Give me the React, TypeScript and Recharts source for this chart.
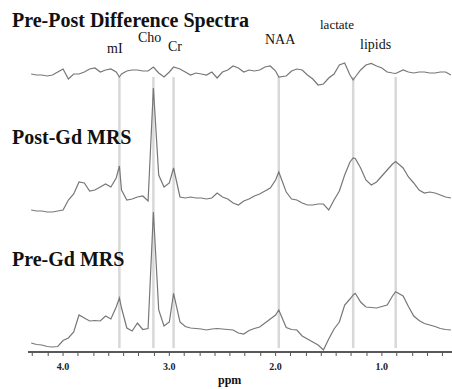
import { LineChart, Line, XAxis, YAxis, ReferenceLine } from "recharts";

// chemical shift (ppm), read left to right
const PPM = [
  4.3, 4.25, 4.2, 4.15, 4.1, 4.05, 4.0, 3.95, 3.9, 3.85,
  3.8, 3.75, 3.7, 3.65, 3.6, 3.55, 3.5, 3.47, 3.45, 3.4,
  3.35, 3.3, 3.25, 3.2, 3.15, 3.1, 3.05, 3.0, 2.96, 2.9,
  2.85, 2.8, 2.75, 2.7, 2.65, 2.6, 2.55, 2.5, 2.45, 2.4,
  2.35, 2.3, 2.25, 2.2, 2.15, 2.1, 2.05, 2.0, 1.97, 1.9,
  1.85, 1.8, 1.75, 1.7, 1.65, 1.6, 1.55, 1.5, 1.45, 1.4,
  1.35, 1.3, 1.27, 1.25, 1.2, 1.15, 1.1, 1.05, 1.0, 0.95,
  0.9, 0.87, 0.8, 0.75, 0.7, 0.65, 0.6, 0.55, 0.5, 0.45,
  0.4, 0.35,
];

const PRE_GD = [
  9, 7.5, 7, 5.5, 5, 5.5, 11.5, 14, 20, 37,
  34, 31, 31.5, 31, 36, 33, 45, 54, 44, 24,
  21, 29, 22.5, 23.5, 140, 42, 26, 30, 58.7, 30,
  25.5, 24, 23.5, 23, 22, 23, 23.5, 23, 22.5, 22,
  19, 18, 21.5, 23.5, 25, 29, 33, 37, 42, 24.5,
  22.5, 22, 16, 13, 10, 7, 2, 13, 23, 30,
  47, 53, 57, 58.7, 50, 45, 44.5, 44, 45.5, 47,
  56, 60.3, 56, 45.5, 36, 31.5, 28.5, 27, 25.5, 23.5,
  22.5, 22,
];

const POST_GD = [
  12, 11, 11, 10, 10, 11, 12, 22, 28, 40,
  39, 31, 32, 35, 38, 35, 44, 56, 32, 22,
  23, 25, 26, 21, 134, 47, 35, 39, 54, 25,
  24, 25, 24, 24, 23, 24, 29, 25, 23, 19,
  17, 21, 23, 26, 28, 31, 34, 42, 50, 30,
  23, 22, 19, 17, 17, 18, 18, 12, 22, 31,
  47, 60, 64, 63.5, 54, 42, 37, 40, 46, 52,
  58, 60.5, 54, 45, 39, 32, 29, 30, 29, 27,
  25, 24,
];

const DIFFERENCE = [
  8, 7, 7, 6, 7, 10, 13, 3, 8, 8,
  10, 13, 14, 10, 12, 13, 10, 5, 8, 11,
  12, 12, 11, 11, 15, 9, 5, 10, 15, 13,
  10, 7, 9, 8, 7, 10, 4, 10, 12, 16,
  14, 10, 12, 11, 12, 15, 16, 11, 5, 6,
  11, 13, 12, 7, 3, -3, -2, 4, 8, 17,
  19, 7, 2, 5, 12, 17, 18.5, 16, 14, 10,
  9, 8.5, 12, 10, 9, 10, 10, 9, 9, 10,
  10, 7,
];

const PEAK_NAMES = ["mI", "Cho", "Cr", "NAA", "lactate", "lipids"];
const PEAK_PPM = [3.47, 3.15, 2.96, 1.97, 1.27, 0.87];

const AXIS_TICKS = [
  4.29, 4.14, 4.0, 3.86, 3.71, 3.57, 3.43, 3.29, 3.14, 3.0,
  2.86, 2.71, 2.57, 2.43, 2.29, 2.14, 2.0, 1.86, 1.71, 1.57,
  1.43, 1.29, 1.14, 1.0, 0.86, 0.71, 0.57, 0.43,
];
const LABELED_TICKS = [4.0, 3.0, 2.0, 1.0];

// vertical stacking of the three spectra
const POST_OFFSET = 130;
const DIFF_OFFSET = 270;

const data = PPM.map((ppm, i) => ({
  ppm,
  pre: PRE_GD[i],
  post: POST_GD[i] + POST_OFFSET,
  diff: DIFFERENCE[i] + DIFF_OFFSET,
}));

const serif = "'Liberation Serif', 'DejaVu Serif', serif";
const traceColor = "#777";

// text placed over the chart (titles, peak names, axis title)
const overlayText = [
  { t: "Pre-Post Difference Spectra", x: 12, y: 27, size: 20, bold: true },
  { t: "Post-Gd MRS", x: 12, y: 144, size: 20, bold: true },
  { t: "Pre-Gd MRS", x: 12, y: 266, size: 20, bold: true },
  { t: PEAK_NAMES[0], x: 107, y: 53, size: 14 },
  { t: PEAK_NAMES[1], x: 138, y: 42, size: 14 },
  { t: PEAK_NAMES[2], x: 168, y: 51, size: 14 },
  { t: PEAK_NAMES[3], x: 265, y: 44, size: 14 },
  { t: PEAK_NAMES[4], x: 320, y: 29, size: 13 },
  { t: PEAK_NAMES[5], x: 360, y: 49, size: 14 },
  { t: "ppm", x: 218, y: 384, size: 12, bold: true },
];

export default function App() {
  return (
    <div style={{ position: "absolute", left: 0, top: 0, width: 452, height: 389, background: "#fff" }}>
      <LineChart
        width={452}
        height={389}
        data={data}
        margin={{ top: 0, right: 0, bottom: 0, left: 28 }}
      >
        <XAxis
          dataKey="ppm"
          type="number"
          domain={[0.34, 4.33]}
          reversed
          allowDataOverflow
          ticks={AXIS_TICKS}
          interval={0}
          height={37}
          tickSize={4}
          tickMargin={7}
          tickFormatter={(v: number) =>
            LABELED_TICKS.includes(v) ? v.toFixed(1) : ""
          }
          tick={{ fontSize: 10, fontWeight: "bold", fill: "#222", fontFamily: serif }}
          axisLine={{ stroke: "#222", strokeWidth: 1.5 }}
          tickLine={{ stroke: "#555" }}
        />
        <YAxis hide domain={[0, 352]} allowDataOverflow />

        {PEAK_PPM.map((p) => (
          <ReferenceLine
            key={p}
            segment={[
              { x: p, y: 4 },
              { x: p, y: 275 },
            ]}
            stroke="#d8d8d8"
            strokeWidth={2.5}
          />
        ))}

        <Line
          dataKey="diff"
          type="linear"
          stroke={traceColor}
          strokeWidth={1.2}
          dot={false}
          isAnimationActive={false}
        />
        <Line
          dataKey="post"
          type="linear"
          stroke={traceColor}
          strokeWidth={1.2}
          dot={false}
          isAnimationActive={false}
        />
        <Line
          dataKey="pre"
          type="linear"
          stroke={traceColor}
          strokeWidth={1.2}
          dot={false}
          isAnimationActive={false}
        />
      </LineChart>

      <svg
        width={452}
        height={389}
        style={{ position: "absolute", left: 0, top: 0, pointerEvents: "none" }}
      >
        {overlayText.map((o) => (
          <text
            key={o.t}
            x={o.x}
            y={o.y}
            fontFamily={serif}
            fontSize={o.size}
            fontWeight={o.bold ? "bold" : "normal"}
            fill="#111"
          >
            {o.t}
          </text>
        ))}
      </svg>
    </div>
  );
}
